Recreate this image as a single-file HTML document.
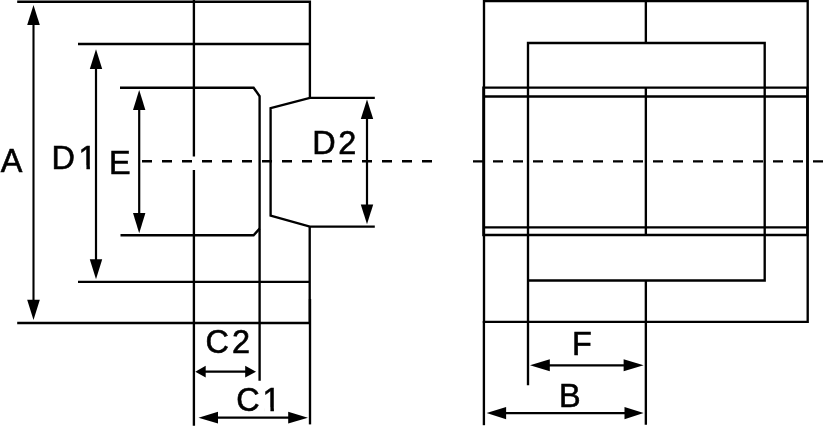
<!DOCTYPE html>
<html>
<head>
<meta charset="utf-8">
<title>Dimension drawing</title>
<style>
html,body{margin:0;padding:0;background:#fff;}
body{width:823px;height:427px;overflow:hidden;}
svg{display:block;will-change:transform;}
text{font-family:"Liberation Sans",sans-serif;font-size:33.6px;fill:#000;stroke:#000;stroke-width:0.6px;}
</style>
</head>
<body>
<svg width="823" height="427" viewBox="0 0 823 427">
<rect x="0" y="0" width="823" height="427" fill="#fff"/>
<g fill="none" stroke="#000" stroke-width="2.35" stroke-linecap="butt" stroke-linejoin="miter">
<!-- LEFT FIGURE -->
<path d="M17.2 1.75H309.9V97.8"/>
<path d="M17.2 323H309.9"/>
<path d="M309.7 226.6V323"/>
<path d="M310 299V424.4"/>
<path d="M78 44H309.9"/>
<path d="M78 281.9H309.9"/>
<path d="M120 87.7H253.6L259.6 96.2V380.7"/>
<path d="M120.5 235.2H253.6L259.6 228.6"/>
<path d="M193.9 0V156.4M193.9 170V425.8"/>
<path d="M374.8 97.8H309.9L270.6 108.2V215.7L309.9 226.6H374.8"/>
<!-- dimension shafts -->
<path d="M33.5 20V305" stroke-width="2.1"/>
<path d="M96 64V264" stroke-width="2.2"/>
<path d="M139.2 105V218" stroke-width="2.2"/>
<path d="M367 114V209" stroke-width="2.2"/>
<path d="M203 371.65H248" stroke-width="2.4"/>
<path d="M214 417.7H292" stroke-width="2.3"/>
<!-- RIGHT FIGURE -->
<path d="M484 1.05H807.7V321.9H484Z"/>
<path d="M483.4 87.6H807.3V235H483.4Z"/>
<path d="M483.4 96.5H807.3M483.4 227.3H807.3"/>
<path d="M528 385.3V43H764.7V280.5H528"/>
<path d="M645.85 0V43M645.85 87.6V235M645.85 280.5V424.8"/>
<path d="M483.9 321V425.2"/>
<path d="M545 365.3H628" stroke-width="2.3"/>
<path d="M502 413.1H628" stroke-width="2.3"/>
</g>
<!-- dashed centre lines -->
<g fill="none" stroke="#000" stroke-width="2.45" stroke-dasharray="10 10">
<path d="M142 161.3H432"/>
<path d="M473 161.35H823"/>
</g>
<!-- arrowheads -->
<g fill="#000" stroke="none">
<path d="M33.5 5.05L39.80 24.95H27.20Z"/>
<path d="M33.5 319.95L39.80 299.85H27.20Z"/>
<path d="M96 49.15L102.20 69.05H89.80Z"/>
<path d="M96 279.15L102.20 259.25H89.80Z"/>
<path d="M139.2 90.05L145.40 109.95H133.00Z"/>
<path d="M139.2 233.25L145.40 213.05H133.00Z"/>
<path d="M367 99.55L373.20 119.05H360.80Z"/>
<path d="M367 224.15L373.20 204.45H360.80Z"/>
<path d="M195.30 371.65L205.70 365.85V377.45Z"/>
<path d="M256.00 371.65L245.20 365.85V377.45Z"/>
<path d="M198.50 417.7L218.00 411.80V423.60Z"/>
<path d="M307.90 417.7L288.20 411.80V423.60Z"/>
<path d="M530.00 365.3L549.80 359.30V371.30Z"/>
<path d="M643.60 365.3L623.60 359.30V371.30Z"/>
<path d="M486.60 413.1L506.10 406.90V419.30Z"/>
<path d="M643.60 413.1L624.50 406.90V419.30Z"/>
</g>
<!-- labels -->
<defs>
<clipPath id="k1" clipPathUnits="userSpaceOnUse"><rect x="48.49" y="128.72" width="56.67" height="36.69"/><rect x="48.49" y="156.72" width="34.51" height="20"/><rect x="89.59" y="156.72" width="3.57" height="20"/></clipPath>
<clipPath id="k2" clipPathUnits="userSpaceOnUse"><rect x="239.70" y="370.72" width="56.13" height="36.69"/><rect x="239.70" y="398.72" width="33.97" height="20"/><rect x="280.26" y="398.72" width="3.57" height="20"/></clipPath>
</defs>
<g transform="scale(0.965,1)">
<text x="0.77" y="172.42">A</text>
<text x="53.49 81.44" y="168.72" clip-path="url(#k1)">D1</text>
<text x="113.01" y="173.72">E</text>
<text x="323.61 350.45" y="154.32">D2</text>
<text x="213.04 240.40" y="353.22">C2</text>
<text x="244.70 272.12" y="410.72" clip-path="url(#k2)">C1</text>
<text x="592.76" y="355.17">F</text>
<text x="579.29" y="406.92">B</text>
</g>
</svg>
</body>
</html>
